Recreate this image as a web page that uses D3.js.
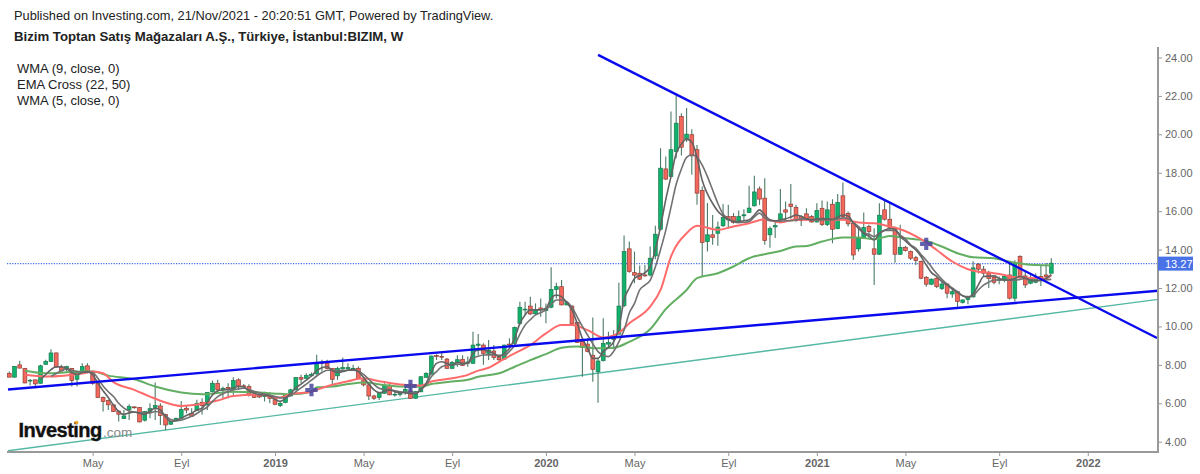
<!DOCTYPE html>
<html><head><meta charset="utf-8">
<script src="https://d3js.org/d3.v7.min.js"></script>
<style>html,body{margin:0;padding:0;background:#fff;overflow:hidden}svg{display:block}text{font-family:"Liberation Sans",Arial,sans-serif}</style>
</head><body><div id="c"></div>
<script>
const opens=[7.56,7.36,8.0,7.82,7.17,7.22,7.04,8.03,8.17,8.62,
7.86,7.79,7.82,7.25,7.65,7.95,7.56,7.03,6.3,6.14,
5.92,5.59,5.2,5.67,5.81,5.78,5.12,5.57,5.78,5.86,
5.41,4.91,5.08,5.22,5.74,5.48,5.62,6.05,5.92,6.61,
7.04,6.7,6.83,6.73,7.22,6.91,6.87,6.44,6.4,6.35,
6.38,6.3,5.88,6.05,6.38,6.7,7.34,7.3,7.43,7.53,
8.14,8.09,7.82,7.43,7.79,7.79,7.79,7.82,7.22,6.96,
6.38,6.3,6.52,6.92,6.44,6.47,6.56,6.64,6.26,6.6,
7.35,7.52,8.48,8.44,8.3,7.82,8.13,8.29,8.1,8.08,
9.02,9.03,8.6,8.72,8.41,8.3,9.08,9.12,10.16,10.87,
11.06,10.66,10.96,10.82,11.0,11.93,12.07,11.12,11.06,10.2,
9.21,9.08,8.5,7.64,8.22,9.08,9.33,9.6,11.08,14.04,
12.8,12.77,12.68,12.68,13.67,15.06,18.2,17.8,19.11,20.93,
19.77,19.98,19.2,17.08,14.42,14.77,14.85,15.24,15.72,15.72,
15.45,15.76,15.93,16.28,17.16,16.68,14.77,15.18,15.58,16.07,
16.37,16.2,15.72,15.86,15.72,15.44,16.15,15.3,16.36,15.09,
16.8,15.89,15.37,14.04,14.59,15.2,14.04,13.76,16.07,15.58,
15.16,13.76,14.12,13.9,13.58,13.38,12.56,12.2,12.51,11.97,
12.21,11.69,11.81,11.24,11.4,11.54,13.24,12.98,12.77,12.56,
12.39,12.46,12.68,11.47,13.64,12.63,12.25,12.3,12.6,12.68,12.77];
const closes=[7.36,7.92,7.83,7.06,7.2,7.01,7.95,8.17,8.62,7.88,
7.68,7.91,7.18,7.62,7.91,7.62,7.03,6.3,6.09,5.92,
5.57,5.43,5.34,5.83,5.78,5.03,5.57,5.72,5.88,5.36,
4.87,5.05,5.22,5.67,5.65,5.32,6.0,5.88,6.57,7.04,
6.7,6.78,6.73,7.18,6.9,6.89,6.44,6.31,6.33,6.4,
6.26,5.95,6.0,6.4,6.7,7.34,7.25,7.44,7.51,8.12,
8.07,7.82,7.25,7.82,7.86,7.86,7.82,7.3,6.96,6.38,
6.26,6.56,6.92,6.44,6.47,6.5,6.73,6.26,6.61,7.38,
7.56,8.46,8.44,8.41,7.82,8.13,8.27,7.96,8.15,9.03,
9.08,8.6,8.77,8.39,8.27,9.03,9.03,9.95,11.0,10.9,
10.65,10.87,10.86,10.93,11.93,12.07,11.12,11.24,10.13,9.17,
8.91,8.69,7.77,8.2,9.12,9.17,9.5,11.06,13.9,12.86,
12.67,12.46,12.63,13.55,14.8,18.24,17.67,19.2,20.58,19.33,
20.01,18.88,16.94,14.37,14.77,14.63,15.17,15.67,15.55,15.41,
15.72,15.81,16.16,17.0,16.63,14.47,15.1,15.25,15.86,15.95,
16.24,15.5,15.51,15.55,15.44,16.03,15.3,16.07,15.06,16.45,
15.72,15.34,13.72,14.59,15.15,14.94,13.76,15.79,15.58,15.15,
13.76,14.12,13.95,13.55,13.43,12.51,12.2,12.46,12.07,12.21,
11.73,11.81,11.3,11.38,11.5,13.05,12.98,12.77,12.5,12.3,
12.46,12.6,11.47,13.29,12.56,12.16,12.46,12.51,12.51,12.6,13.29];
const highs=[7.65,7.93,8.22,7.84,7.26,7.23,8.0,8.26,8.81,8.64,
8.0,7.95,7.84,7.66,8.08,8.08,7.68,7.08,6.35,6.2,
5.95,5.65,5.65,5.95,5.85,5.8,5.6,6.0,7.08,6.0,
5.45,5.1,5.25,6.12,5.9,5.74,6.18,6.26,6.58,7.18,
7.22,6.87,7.04,7.36,7.3,7.0,6.99,6.5,6.45,6.6,
6.56,6.32,6.05,6.42,6.75,7.36,7.48,7.56,7.6,8.52,
8.26,8.26,7.84,7.91,8.38,8.08,8.0,7.91,7.3,7.0,
6.45,6.6,7.04,7.04,6.6,6.62,6.87,7.04,6.64,7.42,
7.62,8.48,8.55,8.68,8.36,8.2,8.5,8.5,8.43,9.73,
9.6,9.12,9.3,9.03,8.5,9.05,9.38,10.0,11.29,11.29,
11.55,11.2,11.46,11.2,13.08,12.28,12.42,11.3,11.1,10.25,
9.25,9.38,10.47,8.3,10.42,9.73,9.81,12.28,14.74,14.42,
13.9,13.17,13.2,14.16,15.24,19.28,18.85,21.19,22.06,21.1,
21.37,20.27,19.45,17.29,16.42,15.8,15.46,16.37,16.33,15.9,
16.03,16.1,17.32,17.84,17.29,17.72,15.2,15.46,17.15,16.5,
17.42,16.33,15.8,16.15,15.8,16.41,16.55,16.5,16.62,16.9,
17.49,15.98,15.46,15.11,15.93,15.29,15.11,16.41,16.59,16.41,
15.2,15.29,14.19,13.95,13.67,13.43,12.63,12.5,12.56,12.3,
12.25,12.0,11.85,11.4,11.55,13.4,13.3,13.15,12.9,12.6,
12.6,12.7,13.3,13.45,13.7,12.85,12.7,12.75,13.2,13.3,13.55];
const lows=[7.35,7.34,7.82,7.04,6.92,6.78,7.03,8.0,8.16,7.86,
7.65,7.6,6.87,6.87,7.62,7.56,6.96,6.28,5.57,5.65,
5.55,5.05,5.18,5.13,5.72,5.0,5.05,5.22,5.13,4.87,
4.6,4.88,5.05,5.2,5.48,5.3,5.6,5.4,5.65,6.56,
6.52,6.26,6.26,6.44,6.7,6.83,6.35,6.28,6.28,6.09,
6.0,5.9,5.8,6.0,6.35,6.68,7.04,7.27,7.4,7.48,
7.65,7.79,6.87,7.22,7.74,7.74,7.74,7.27,6.87,6.17,
6.17,6.17,6.5,6.42,6.35,6.35,6.44,6.23,6.24,6.58,
7.33,7.5,8.25,8.25,7.8,7.8,7.9,7.94,7.9,8.07,
8.5,8.0,8.25,8.25,8.2,8.28,8.95,9.1,10.07,10.6,
10.6,10.6,10.5,10.16,10.95,11.46,11.1,11.1,10.1,9.15,
7.38,8.65,7.12,6.03,8.17,8.86,8.81,9.58,11.0,12.8,
12.25,12.42,12.6,12.6,13.5,15.0,17.63,17.77,18.76,18.9,
19.6,17.89,16.33,12.6,13.9,14.25,14.2,15.17,15.1,15.35,
15.4,15.5,15.9,16.24,16.33,14.25,14.1,14.6,15.46,15.46,
15.6,15.46,15.23,15.5,15.4,15.41,15.23,15.23,14.33,15.06,
15.68,15.2,13.46,13.9,14.56,14.56,12.16,13.72,15.51,15.0,
13.32,13.72,13.9,13.46,13.2,12.46,12.07,12.15,12.0,11.9,
11.47,11.5,11.0,11.2,11.15,11.5,12.75,12.6,12.0,12.2,
12.2,12.3,11.4,11.3,12.5,12.0,12.2,12.25,12.1,12.5,12.75];

// WMA (5) readings, one per bar starting at bar 6
const wma5First=6;
const wma5=[7.25,7.5,7.75,7.9,7.9,7.82,7.6,7.5,7.6,7.65,7.5,7.04,6.65,6.3,5.9,5.57,5.42,5.5,5.55,5.48,
5.42,5.6,5.74,5.65,5.3,5.05,5.1,5.22,5.36,5.48,5.65,5.75,6.05,6.43,6.65,6.7,6.72,6.8,6.87,6.85,
6.65,6.52,6.45,6.42,6.38,6.2,6.1,6.25,6.5,6.8,7.0,7.2,7.42,7.7,7.85,7.9,7.7,7.6,7.65,7.72,
7.75,7.65,7.35,7.0,6.7,6.55,6.62,6.7,6.6,6.55,6.55,6.5,6.5,6.72,7.04,7.64,8.08,8.16,8.08,8.0,
8.13,8.08,8.1,8.6,8.77,8.77,8.69,8.6,8.43,8.6,8.86,9.38,10.16,10.6,10.86,10.86,10.86,10.94,11.46,11.64,
11.55,11.24,10.86,10.16,9.38,8.86,8.34,8.34,8.69,8.91,9.2,9.9,11.4,12.0,12.5,12.65,12.8,13.1,14.0,15.2,
16.6,17.8,19.0,19.5,19.75,19.6,18.8,17.6,16.9,16.4,16.0,15.75,15.55,15.48,15.46,15.5,15.55,15.8,16.07,15.8,
15.55,15.5,15.55,15.6,15.7,15.8,15.72,15.6,15.55,15.6,15.62,15.6,15.58,15.7,15.8,15.75,15.4,15.1,14.85,14.7,
14.5,14.85,15.0,15.1,15.06,14.68,14.45,14.2,13.98,13.64,13.2,12.8,12.6,12.33,12.15,11.95,11.76,11.59,11.5,11.7,
12.16,12.6,12.62,12.63,12.5,12.42,12.42,12.5,12.6,12.52,12.4,12.38,12.42,12.5,12.7];
// WMA (9) readings, one per bar starting at bar 8
const wma9First=8;
const wma9=[7.4,7.55,7.7,7.78,7.72,7.65,7.62,7.62,7.6,7.3,6.9,6.6,6.35,6.0,5.75,5.6,5.55,5.5,
5.5,5.5,5.57,5.52,5.35,5.15,5.1,5.12,5.22,5.32,5.47,5.65,5.8,6.1,6.35,6.5,6.6,6.7,6.75,6.78,
6.72,6.62,6.55,6.48,6.42,6.35,6.28,6.3,6.42,6.6,6.8,7.0,7.2,7.42,7.6,7.72,7.72,7.7,7.7,7.72,
7.72,7.68,7.5,7.25,6.98,6.78,6.72,6.72,6.65,6.6,6.58,6.55,6.55,6.72,6.95,7.38,7.65,7.9,7.98,8.0,
8.03,8.04,8.08,8.34,8.45,8.51,8.52,8.52,8.5,8.5,8.7,9.03,9.6,10.07,10.35,10.6,10.72,10.86,11.15,11.38,
11.38,11.29,11.0,10.5,10.0,9.55,9.1,8.69,8.5,8.43,8.7,9.2,9.81,10.7,11.2,11.9,12.15,12.4,13.1,14.0,
15.0,16.2,17.4,18.2,18.8,18.94,18.8,18.4,17.8,17.1,16.4,15.85,15.6,15.45,15.4,15.42,15.46,15.7,15.9,15.64,
15.5,15.5,15.48,15.5,15.5,15.55,15.6,15.6,15.55,15.55,15.55,15.55,15.55,15.6,15.65,15.6,15.4,15.2,14.9,14.8,
14.68,14.85,15.0,15.0,15.0,14.76,14.55,14.25,14.07,13.75,13.45,13.1,12.75,12.45,12.2,12.0,11.81,11.6,11.55,11.6,
11.9,12.15,12.3,12.42,12.42,12.42,12.42,12.4,12.45,12.5,12.42,12.4,12.38,12.42,12.45];

// EMA cross lines, read at the bars listed
const emaFastBars=[3,7,14,16,18,20,24,27,30,33,37,40,43,48,52,54,58,59,62,65,68,71,75,79,81,85,88,90,92,94,97,100,103,106,108,111,114,117,119,123,125,127,130,132,136,139,142,145,148,151,153,156,160,163,166,169,171,175,178,181,184,186,189,191,193,199,200];
const emaFastValues=[7.48,7.39,7.55,7.65,7.56,7.1,6.7,6.35,6.04,5.86,5.97,6.14,6.38,6.44,6.3,6.47,6.6,6.7,6.96,7.15,7.3,7.15,6.98,6.92,7.13,7.3,7.48,7.7,7.85,8.16,8.6,9.03,9.64,10.07,10.07,9.81,9.43,9.67,10.16,11.03,11.9,13.64,14.85,15.24,15.03,15.2,15.37,15.58,15.41,15.58,15.55,15.55,15.55,15.41,15.37,15.2,15.06,14.54,13.98,13.38,12.98,12.85,12.77,12.68,12.56,12.5,12.68];
const emaSlowBars=[3,7,14,16,19,24,28,33,37,43,48,52,54,58,59,62,65,68,72,75,79,81,85,88,90,94,97,100,103,106,109,113,116,119,123,126,130,132,136,139,142,145,148,151,153,156,160,163,166,169,172,176,179,182,185,189,191,195,200];
const emaSlowValues=[7.69,7.56,7.65,7.65,7.44,7.25,6.87,6.56,6.47,6.6,6.56,6.49,6.47,6.6,6.83,6.87,7.0,7.08,6.95,6.87,6.87,7.0,7.13,7.22,7.38,7.56,7.9,8.25,8.56,8.89,8.95,8.86,8.89,9.2,9.85,10.9,11.9,12.51,12.77,13.12,13.55,13.76,13.93,14.16,14.19,14.42,14.63,14.63,14.54,14.71,14.59,14.45,14.16,13.81,13.6,13.55,13.43,13.24,13.17];

// Trend lines: [bar, price] end points
const trendRise=[[-0.25,6.72],[220.5,11.86]];
const trendFall=[[113,24.14],[220.3,9.4]];
const trendTeal=[[-0.25,3.53],[220.5,11.41]];
const crossBars=[58,77,176];
const crossValues=[6.69,6.9,14.3];

const lastPrice=13.27;
const priceTicks=[4,6,8,10,12,14,16,18,20,22,24];
const timeBars=[16,33,51,68,85,103,120,138,155,172,190,207];
const timeLabels=["May","Eyl","2019","May","Eyl","2020","May","Eyl","2021","May","Eyl","2022"];
const headerText="Published on Investing.com, 21/Nov/2021 - 20:20:51 GMT, Powered by TradingView.";
const titleText="Bizim Toptan Satış Mağazaları A.Ş., Türkiye, İstanbul:BIZIM, W";
const legendText=["WMA (9, close, 0)","EMA Cross (22, 50)","WMA (5, close, 0)"];

const W=1200,H=474,axisX=1158,axisY=452,left=7;
const x=d3.scaleLinear().domain([0,200]).range([9.3,1051.3]);
const y=d3.scaleLinear().domain([4,24]).range([441.7,57.5]);
const svg=d3.select("#c").append("svg").attr("width",W).attr("height",H);

svg.append("defs").append("clipPath").attr("id","plot").append("rect")
  .attr("x",left).attr("y",47).attr("width",axisX-left).attr("height",axisY-47);
const plot=svg.append("g").attr("clip-path","url(#plot)");

// last price line
plot.append("line").attr("x1",left).attr("x2",axisX).attr("y1",y(lastPrice)).attr("y2",y(lastPrice))
  .attr("stroke","#3f6cf0").attr("stroke-width",1.2).attr("stroke-dasharray","1.2 1.4");

// teal trend
const straight=d3.line().x(d=>x(d[0])).y(d=>y(d[1]));
plot.append("path").attr("d",straight(trendTeal)).attr("fill","none").attr("stroke","#55b8a4").attr("stroke-width",1.4);

// candles
const bars=d3.range(opens.length);
const up=i=>closes[i]>=opens[i];
const cg=plot.append("g");
cg.selectAll("line").data(bars).join("line")
  .attr("x1",i=>x(i)).attr("x2",i=>x(i)).attr("y1",i=>y(highs[i])).attr("y2",i=>y(lows[i]))
  .attr("stroke","#4c7a66").attr("stroke-width",1.1);
cg.selectAll("rect").data(bars).join("rect")
  .attr("x",i=>x(i)-1.9).attr("width",3.8)
  .attr("y",i=>y(Math.max(opens[i],closes[i])))
  .attr("height",i=>Math.max(0.8,Math.abs(y(opens[i])-y(closes[i]))))
  .attr("fill",i=>up(i)?"#0fb36b":"#f4685c")
  .attr("stroke",i=>up(i)?"#1a7a50":"#8f3d36").attr("stroke-width",0.7);

// moving averages
const lineBar=d3.line().x(d=>x(d[0])).y(d=>y(d[1])).curve(d3.curveMonotoneX);
const pairs=(b,v)=>b.map((k,i)=>[k,v[i]]);
plot.append("path").attr("d",lineBar(pairs(emaSlowBars,emaSlowValues))).attr("fill","none").attr("stroke","#62ae62").attr("stroke-width",2);
plot.append("path").attr("d",lineBar(pairs(emaFastBars,emaFastValues))).attr("fill","none").attr("stroke","#ff6b6b").attr("stroke-width",2);
plot.append("path").attr("d",lineBar(wma9.map((v,i)=>[i+wma9First,v]))).attr("fill","none").attr("stroke","#717171").attr("stroke-width",1.6);
plot.append("path").attr("d",lineBar(wma5.map((v,i)=>[i+wma5First,v]))).attr("fill","none").attr("stroke","#636363").attr("stroke-width",1.6);

// blue trend lines
plot.append("path").attr("d",straight(trendRise)).attr("fill","none").attr("stroke","#0a0aee").attr("stroke-width",2.4);
plot.append("path").attr("d",straight(trendFall)).attr("fill","none").attr("stroke","#0a0aee").attr("stroke-width",2.4);

// cross markers
plot.selectAll("path.cross").data(crossBars).join("path").attr("class","cross")
  .attr("transform",(b,i)=>`translate(${x(b)},${y(crossValues[i])})`)
  .attr("d",d3.symbol(d3.symbolCross,85)())
  .attr("fill","#45459f").attr("fill-opacity",0.85);

// axes
const ax=d3.axisRight(y).tickValues(priceTicks).tickFormat(d3.format(".2f")).tickSize(4).tickPadding(3);
const gy=svg.append("g").attr("transform",`translate(${axisX},0)`).call(ax);
gy.select(".domain").attr("d",`M0,47V${axisY+1}`).attr("stroke","#999").attr("stroke-width",2);
gy.selectAll("line").attr("stroke","#999");
gy.selectAll("text").attr("fill","#666").style("font-size","11px").style("font-family",'"Liberation Sans",Arial,sans-serif');

const bx=d3.axisBottom(x).tickValues(timeBars).tickFormat((d,i)=>timeLabels[i]).tickSize(4).tickPadding(3);
const gx=svg.append("g").attr("transform",`translate(0,${axisY})`).call(bx);
gx.select(".domain").attr("d",`M${left},0H${axisX}`).attr("stroke","#999").attr("stroke-width",2);
gx.selectAll("line").attr("stroke","#999");
gx.selectAll("text").attr("fill","#666").style("font-size","11px").style("font-family",'"Liberation Sans",Arial,sans-serif')
  .style("font-weight",(d,i)=>/^\d+$/.test(timeLabels[i])?"bold":"normal");

// price label
svg.append("rect").attr("x",axisX).attr("y",y(lastPrice)-7).attr("width",35).attr("height",14).attr("fill","#4a72e8");
svg.append("text").attr("x",axisX+7).attr("y",y(lastPrice)+4).attr("fill","#fff").style("font-size","11px").text(d3.format(".2f")(lastPrice));

// header texts
svg.append("text").attr("x",14).attr("y",20).attr("fill","#222").style("font-size","12.8px").text(headerText);
svg.append("text").attr("x",14).attr("y",41).attr("fill","#222").style("font-size","13.2px").style("font-weight","bold").text(titleText);
svg.selectAll("text.leg").data(legendText).join("text").attr("class","leg")
  .attr("x",17).attr("y",(d,i)=>72.5+i*16).attr("fill","#222").style("font-size","13px").text(d=>d);

// logo
svg.append("text").attr("x",18.5).attr("y",436.5).attr("fill","#111").attr("stroke","#111").attr("stroke-width",0.4).style("font-size","20px").style("font-weight","bold").style("letter-spacing","-0.5px").text("Investing");
svg.append("text").attr("x",103).attr("y",437).attr("fill","#888").style("font-size","13.5px").text(".com");
svg.append("circle").attr("cx",76.7).attr("cy",422.5).attr("r",1.7).attr("fill","#f5a623");
</script></body></html>
